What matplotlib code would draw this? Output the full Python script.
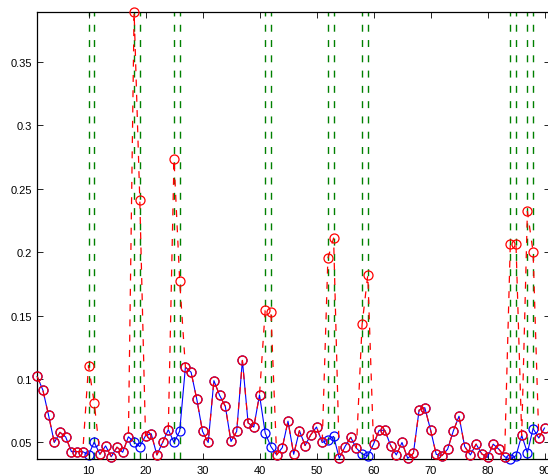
import matplotlib
matplotlib.use("Agg")
import matplotlib.pyplot as plt

plt.rcParams['font.family'] = ['Liberation Sans', 'DejaVu Sans']
plt.rcParams['lines.scale_dashes'] = False

x = list(range(1, 91))

# blue: base series
blue_y = [0.102, 0.0912, 0.0713, 0.050, 0.058, 0.0543, 0.0428, 0.0428, 0.0428, 0.0402,
          0.0503, 0.0407, 0.0473, 0.0388, 0.0463, 0.0423, 0.0545, 0.0503, 0.0468, 0.0553,
          0.0569, 0.0402, 0.050, 0.0601, 0.050, 0.059, 0.1093, 0.1053, 0.084, 0.0588,
          0.050, 0.0987, 0.0872, 0.0785, 0.0508, 0.0588, 0.1146, 0.0654, 0.0622, 0.0875,
          0.0574, 0.0468, 0.0402, 0.046, 0.0668, 0.0407, 0.0593, 0.0476, 0.0561, 0.0622,
          0.050, 0.0521, 0.0548, 0.0375, 0.0468, 0.054, 0.0455, 0.041, 0.0394, 0.0487,
          0.0596, 0.0596, 0.0476, 0.0402, 0.050, 0.0375, 0.0415, 0.0755, 0.0774, 0.0601,
          0.0407, 0.0396, 0.0447, 0.059, 0.0707, 0.0468, 0.0402, 0.0487, 0.041, 0.0383,
          0.0487, 0.0447, 0.0388, 0.0370, 0.0396, 0.0556, 0.0420, 0.0610, 0.0535, 0.0614]

# red: same series but with spikes at the marked positions
spike_x = [10, 11, 18, 19, 25, 26, 41, 42, 52, 53, 58, 59, 84, 85, 87, 88]
spike_y = [0.1106, 0.0814, 0.389, 0.241, 0.273, 0.177, 0.154, 0.153,
           0.195, 0.211, 0.143, 0.182, 0.206, 0.206, 0.232, 0.20]

red_y = list(blue_y)
for sx, sy in zip(spike_x, spike_y):
    red_y[sx - 1] = sy

y_ticks = [0.05, 0.1, 0.15, 0.2, 0.25, 0.3, 0.35]
y_tick_labels = ['0.05', '0.1', '0.15', '0.2', '0.25', '0.3', '0.35']
x_ticks = [10, 20, 30, 40, 50, 60, 70, 80, 90]

fig = plt.figure(figsize=(5.48, 4.77), dpi=100)
ax = fig.add_axes([37.2 / 548, 1 - 460 / 477, 513 / 548, 447 / 477])

ymin = min(blue_y + red_y)
ymax = max(blue_y + red_y)

for gx in spike_x:
    ax.plot([gx, gx], [ymin, ymax], color=(0, 0.5, 0), lw=1.0,
            linestyle=(0, (5, 6)), zorder=1)

ax.plot(x, blue_y, 'b-o', lw=0.8, ms=6.5, mfc='none', mew=0.9, zorder=2,
        clip_on=False)
ax.plot(x, red_y, color='red', linestyle=(0, (5, 6)), lw=0.9, marker='o',
        ms=6.5, mfc='none', mec='red', mew=0.9, zorder=3, clip_on=False)

ax.set_xlim(1, 91)
ax.set_ylim(ymin, ymax)
ax.set_xticks(x_ticks)
ax.set_yticks(y_ticks)
ax.set_yticklabels(y_tick_labels)
ax.tick_params(direction='in', length=4, width=0.6, top=True, right=True,
               labelsize=8, pad=4)
for s in ax.spines.values():
    s.set_linewidth(0.9)

fig.savefig("out.png", dpi=100)
